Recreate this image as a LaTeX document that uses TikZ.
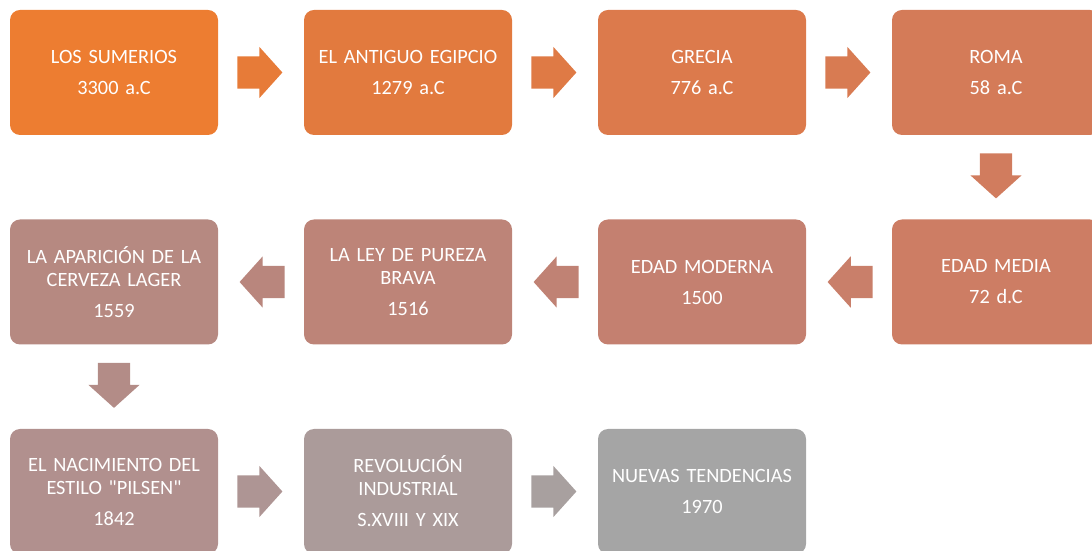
\documentclass[tikz,border=0pt]{standalone}
\usepackage{fontspec}
\setmainfont{Carlito}[Ligatures=TeXOff]
\usepackage{tikz}
\usetikzlibrary{shapes.arrows,calc}

\definecolor{cA}{RGB}{237,125,49}
\definecolor{cB}{RGB}{226,122,62}
\definecolor{cC}{RGB}{220,122,76}
\definecolor{cD}{RGB}{212,123,88}
\definecolor{cE}{RGB}{205,125,100}
\definecolor{cF}{RGB}{196,128,112}
\definecolor{cG}{RGB}{189,132,120}
\definecolor{cH}{RGB}{182,137,129}
\definecolor{cI}{RGB}{177,144,142}
\definecolor{cJ}{RGB}{171,155,154}
\definecolor{cK}{RGB}{165,165,165}

\begin{document}
\begin{tikzpicture}[
            x = 1pt, y = 1pt, % one unit per pixel
            caja/.style = {shape=rectangle, rounded corners=10pt, minimum width=208pt,
                minimum height=125pt, text width=200pt, align=center, inner sep=0pt,
                text=white, font=\fontsize{20.3}{23}\selectfont}, % boxes
            flecha/.style = {shape=single arrow, minimum height=45pt, inner xsep=0pt,
                inner ysep=16pt, single arrow head extend=9.5pt,
                single arrow tip angle=96, anchor=tail} % block arrows
        ]
\useasboundingbox (0,0) rectangle (1092,551);

\node[caja,fill=cA] (SUM) at (114,478.5) {LOS SUMERIOS\\[8pt]3300 a.C};
\node[caja,fill=cB] (EGI) at (408,478.5) {EL ANTIGUO EGIPCIO\\[8pt]1279 a.C};
\node[caja,fill=cC] (GRE) at (702,478.5) {GRECIA\\[8pt]776 a.C};
\node[caja,fill=cD] (ROM) at (996,478.5) {ROMA\\[8pt]58 a.C};

\node[caja,fill=cE] (MED) at (996,269) {EDAD MEDIA\\[8pt]72 d.C};
\node[caja,fill=cF] (MOD) at (702,269) {EDAD MODERNA\\[8pt]1500};
\node[caja,fill=cG] (PUR) at (408,269) {LA LEY DE PUREZA\\BRAVA\\[8pt]1516};
\node[caja,fill=cH] (LAG) at (114,269) {LA APARICIÓN DE LA\\CERVEZA LAGER\\[8pt]1559};

\node[caja,fill=cI] (PIL) at (114,59.5) {EL NACIMIENTO DEL\\ESTILO "PILSEN"\\[8pt]1842};
\node[caja,fill=cJ] (REV) at (408,59.5) {REVOLUCIÓN\\INDUSTRIAL\\[8pt]S.XVIII Y XIX};
\node[caja,fill=cK] (NUE) at (702,59.5) {NUEVAS TENDENCIAS\\[8pt]1970};

% arrows between the boxes
\node[flecha,fill=cA!50!cB] (f1) at ($(SUM.east)+(19,0)$) {};
\node[flecha,fill=cB!50!cC] (f2) at ($(EGI.east)+(19,0)$) {};
\node[flecha,fill=cC!50!cD] (f3) at ($(GRE.east)+(19,0)$) {};
\node[flecha,fill=cD!50!cE,rotate=-90] (f4) at ($(ROM.south)+(0,-18)$) {};
\node[flecha,fill=cE!50!cF,rotate=180] (f5) at ($(MED.west)+(-19,0)$) {};
\node[flecha,fill=cF!50!cG,rotate=180] (f6) at ($(MOD.west)+(-19,0)$) {};
\node[flecha,fill=cG!50!cH,rotate=180] (f7) at ($(PUR.west)+(-19,0)$) {};
\node[flecha,fill=cH!50!cI,rotate=-90] (f8) at ($(LAG.south)+(0,-18)$) {};
\node[flecha,fill=cI!50!cJ] (f9) at ($(PIL.east)+(19,0)$) {};
\node[flecha,fill=cJ!50!cK] (f10) at ($(REV.east)+(19,0)$) {};
\end{tikzpicture}
\end{document}
